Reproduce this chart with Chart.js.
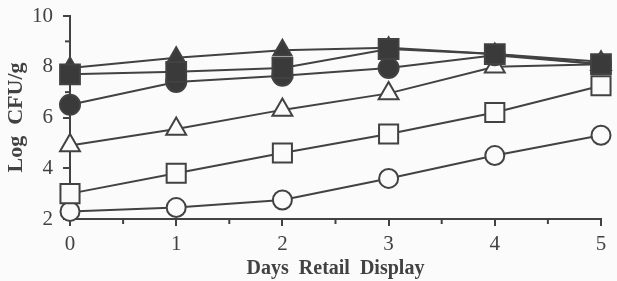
<!DOCTYPE html>
<html>
<head>
<meta charset="utf-8">
<script src="https://cdn.jsdelivr.net/npm/chart.js@4.4.0/dist/chart.umd.min.js"></script>
<style>
  html, body { margin: 0; padding: 0; background: #fbfbfb; }
  #wrap { width: 617px; height: 281px; }
</style>
</head>
<body>
<div id="wrap"><canvas id="c" width="617" height="281"></canvas></div>
<script>
const days = [0, 1, 2, 3, 4, 5];
const openCircle   = [2.3, 2.45, 2.75, 3.6, 4.5, 5.3];
const openSquare   = [3.0, 3.8, 4.6, 5.35, 6.2, 7.25];
const openTriangle = [4.9, 5.55, 6.3, 6.95, 8.0, 8.1];
const filledCircle   = [6.5, 7.4, 7.65, 7.95, 8.45, 8.1];
const filledTriangle = [7.95, 8.35, 8.65, 8.75, 8.5, 8.2];
const filledSquare   = [7.7, 7.8, 7.95, 8.7, 8.5, 8.1];
const yTicks = [2, 4, 6, 8, 10];
const xTicks = [0, 1, 2, 3, 4, 5];

const ink = '#424242';
const bg = '#fbfbfb';
const serif = "'Liberation Serif', 'DejaVu Serif', serif";

function ds(values, style, filled, radius, order) {
  return {
    data: days.map((d, i) => ({ x: d, y: values[i] })),
    borderColor: ink,
    borderWidth: 2,
    pointStyle: style,
    pointRadius: radius,
    pointBorderWidth: 2,
    pointBorderColor: ink,
    pointBackgroundColor: filled ? '#3a3a3a' : bg,
    pointHoverRadius: radius,
    clip: false,
    order: order,
    fill: false,
    tension: 0
  };
}

const minorTicks = {
  id: 'minorTicks',
  beforeDatasetsDraw(chart) {
    const ctx = chart.ctx;
    const xs = chart.scales.x, ys = chart.scales.y;
    ctx.save();
    ctx.strokeStyle = ink;
    ctx.lineWidth = 2;
    for (let v = 3; v < 10; v += 2) {
      const py = ys.getPixelForValue(v);
      ctx.beginPath(); ctx.moveTo(xs.left - 5, py); ctx.lineTo(xs.left, py); ctx.stroke();
    }
    for (let v = 0.5; v < 5; v += 1) {
      const px = xs.getPixelForValue(v);
      ctx.beginPath(); ctx.moveTo(px, ys.bottom); ctx.lineTo(px, ys.bottom + 5); ctx.stroke();
    }
    ctx.restore();
  }
};

new Chart(document.getElementById('c'), {
  type: 'line',
  data: {
    datasets: [
      ds(openCircle, 'circle', false, 9.5, 6),
      ds(openSquare, 'rect', false, 13.5, 5),
      ds(openTriangle, 'triangle', false, 11.5, 4),
      ds(filledCircle, 'circle', true, 10, 3),
      ds(filledTriangle, 'triangle', true, 10.5, 2),
      ds(filledSquare, 'rect', true, 14, 1)
    ]
  },
  options: {
    responsive: false,
    animation: false,
    events: [],
    layout: { padding: { top: 15, right: 16, left: 0, bottom: 0 } },
    plugins: { legend: { display: false }, tooltip: { enabled: false } },
    scales: {
      x: {
        type: 'linear',
        min: 0, max: 5,
        afterBuildTicks: s => { s.ticks = xTicks.map(v => ({ value: v })); },
        afterFit: s => { s.height = 62; },
        border: { color: ink, width: 2 },
        grid: { drawOnChartArea: false, drawTicks: true, tickLength: 7, color: ink, lineWidth: 2 },
        ticks: { color: ink, font: { family: serif, size: 21 }, padding: 6, maxRotation: 0 },
        title: { display: true, text: 'Days  Retail  Display', color: ink,
                 font: { family: serif, size: 20, weight: 'bold' }, padding: { top: 0, bottom: 0 } }
      },
      y: {
        type: 'linear',
        min: 2, max: 10,
        afterBuildTicks: s => { s.ticks = yTicks.map(v => ({ value: v })); },
        afterFit: s => { s.width = 70; s.paddingTop = 0; s.paddingBottom = 0; },
        border: { color: ink, width: 2 },
        grid: { drawOnChartArea: false, drawTicks: true, tickLength: 7, color: ink, lineWidth: 2 },
        ticks: { color: ink, font: { family: serif, size: 21 }, padding: 10 },
        title: { display: true, text: 'Log  CFU/g', color: ink,
                 font: { family: serif, size: 22, weight: 'bold' }, padding: { top: 3, bottom: 0 } }
      }
    }
  },
  plugins: [minorTicks]
});
</script>
</body>
</html>
